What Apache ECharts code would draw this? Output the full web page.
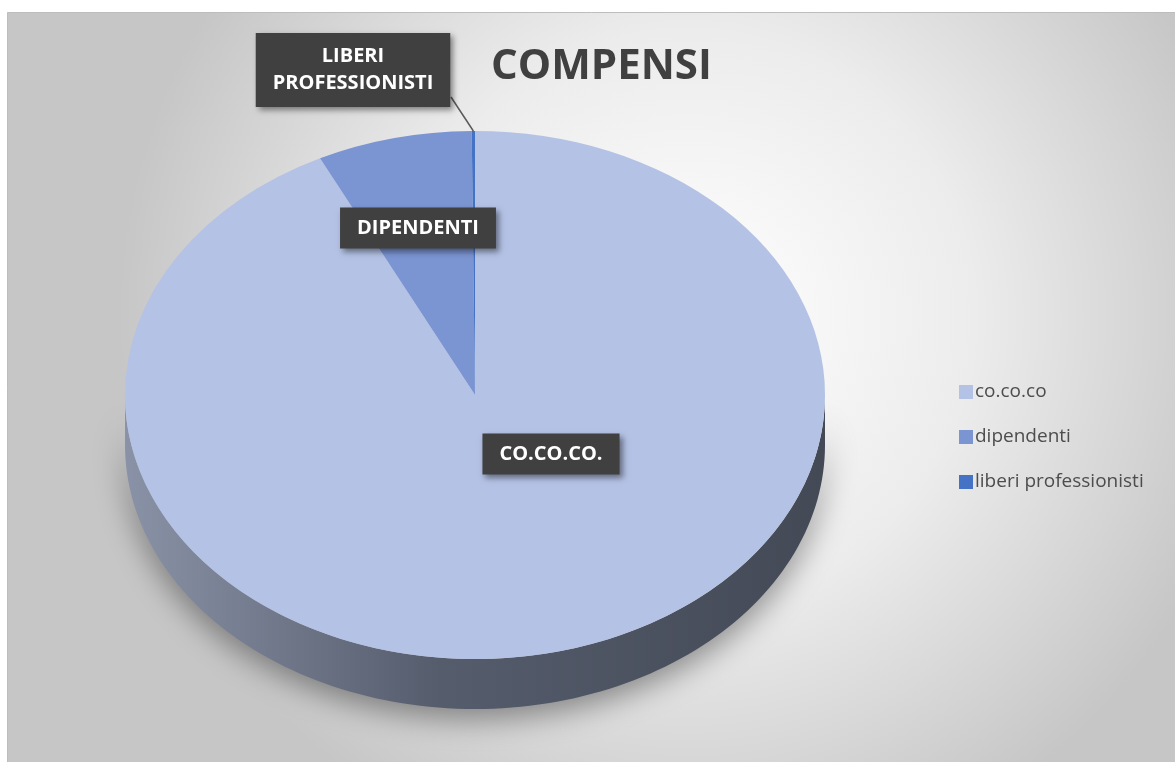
<!DOCTYPE html>
<html>
<head>
<meta charset="utf-8">
<title>COMPENSI</title>
<script src="https://cdn.jsdelivr.net/npm/echarts@6/dist/echarts.min.js"></script>
<style>
  html, body { margin: 0; padding: 0; background: #fff; }
  #chart { width: 1175px; height: 762px; }
</style>
</head>
<body>
<div id="chart"></div>
<script>
// data
const categories = ['co.co.co', 'dipendenti', 'liberi professionisti'];
const values = [92.7, 7.15, 0.15];
const sliceLabels = ['CO.CO.CO.', 'DIPENDENTI', 'LIBERI\nPROFESSIONISTI'];

const colors = ['#b4c2e5', '#7b95d3', '#4472c4'];

// pie geometry (tilted pie = ellipse + front wall)
const cx = 475, cy = 395, rx = 350, ry = 264, depth = 50;
// label box centres relative to the pie centre
const labelOffsets = [[76, 59], [-57, -167], [-122, -325]];
const labelPadV = [7, 7, 10];
// leader line start (relative to label centre), null = no line
const leaderFrom = [null, null, [98, 27]];

const total = values.reduce((a, b) => a + b, 0);
const startAngles = [];
let acc = 0;
values.forEach(v => {
  startAngles.push(-Math.PI / 2 + acc / total * Math.PI * 2);
  acc += v;
});

// points of the visible front wall for an angle range (lower half of ellipse)
function wallPoints(a0, a1) {
  const s = Math.max(a0, 0), e = Math.min(a1, Math.PI);
  if (e <= s) return null;
  const top = [], bottom = [];
  const steps = 120;
  for (let k = 0; k <= steps; k++) {
    const a = s + (e - s) * k / steps;
    const x = cx + rx * Math.cos(a), y = cy + ry * Math.sin(a);
    top.push([x, y]);
    bottom.unshift([x, y + depth]);
  }
  return top.concat(bottom);
}

const wallFill = new echarts.graphic.LinearGradient(cx - rx, 0, cx + rx, 0, [
  { offset: 0, color: '#8a92a7' },
  { offset: 0.45, color: '#555c6c' },
  { offset: 1, color: '#434955' }
], true);

function makeRender(i) {
  return function (params, api) {
    const v = api.value(0);
    const a0 = startAngles[i];
    const a1 = a0 + v / total * Math.PI * 2;
    const children = [];

    const wall = wallPoints(a0, a1);
    if (wall) {
      children.push({
        type: 'polygon',
        z2: 0,
        shape: { points: wall },
        style: {
          fill: wallFill,
          shadowBlur: 30,
          shadowColor: 'rgba(0,0,0,0.4)',
          shadowOffsetY: 10
        }
      });
    }

    children.push({
      type: 'group',
      x: cx,
      y: cy,
      scaleY: ry / rx,
      children: [{
        type: 'sector',
        z2: 5,
        shape: { cx: 0, cy: 0, r: rx, r0: 0, startAngle: a0, endAngle: a1, clockwise: true },
        style: { fill: api.visual('color') }
      }]
    });

    const lx = cx + labelOffsets[i][0], ly = cy + labelOffsets[i][1];
    if (leaderFrom[i]) {
      const m = (a0 + a1) / 2;
      children.push({
        type: 'line',
        z2: 15,
        shape: {
          x1: lx + leaderFrom[i][0], y1: ly + leaderFrom[i][1],
          x2: cx + rx * Math.cos(m), y2: cy + ry * Math.sin(m)
        },
        style: { stroke: '#5a5a5a', lineWidth: 1.5 }
      });
    }
    children.push({
      type: 'text',
      z2: 20,
      x: lx,
      y: ly,
      style: {
        text: sliceLabels[i],
        fill: '#ffffff',
        font: 'bold 20px "Open Sans", sans-serif',
        align: 'center',
        verticalAlign: 'middle',
        lineHeight: 27,
        backgroundColor: '#404040',
        padding: [labelPadV[i], 17, labelPadV[i], 17],
        shadowBlur: 6,
        shadowColor: 'rgba(0,0,0,0.45)',
        shadowOffsetX: 3,
        shadowOffsetY: 3
      }
    });

    return { type: 'group', children: children };
  };
}

const chart = echarts.init(document.getElementById('chart'));

chart.setOption({
  animation: false,
  color: colors,
  graphic: {
    elements: [{
      type: 'rect',
      silent: true,
      z: -10,
      shape: { x: 7.5, y: 12.5, width: 1175, height: 760 },
      style: {
        fill: new echarts.graphic.RadialGradient(0.58, 0.4, 0.75, [
          { offset: 0, color: '#ffffff' },
          { offset: 0.5, color: '#ececec' },
          { offset: 1, color: '#c6c6c6' }
        ]),
        stroke: '#bdbdbd',
        lineWidth: 1
      }
    }]
  },
  title: {
    text: 'COMPENSI',
    left: 486,
    top: 41,
    textStyle: {
      fontFamily: '"Open Sans", sans-serif',
      fontSize: 42,
      fontWeight: 'bold',
      color: '#404040'
    }
  },
  legend: {
    orient: 'vertical',
    left: 954,
    top: 375,
    icon: 'rect',
    itemWidth: 14,
    itemHeight: 14,
    itemGap: 21,
    data: categories,
    textStyle: {
      fontFamily: '"Open Sans", sans-serif',
      fontSize: 19,
      lineHeight: 24,
      color: '#4d4d4d',
      padding: [0, 0, 0, -3]
    }
  },
  series: categories.map((name, i) => ({
    type: 'custom',
    name: name,
    coordinateSystem: 'none',
    renderItem: makeRender(i),
    data: [[values[i]]]
  }))
});

window.addEventListener('resize', function () {
  chart.resize();
});
</script>
</body>
</html>
